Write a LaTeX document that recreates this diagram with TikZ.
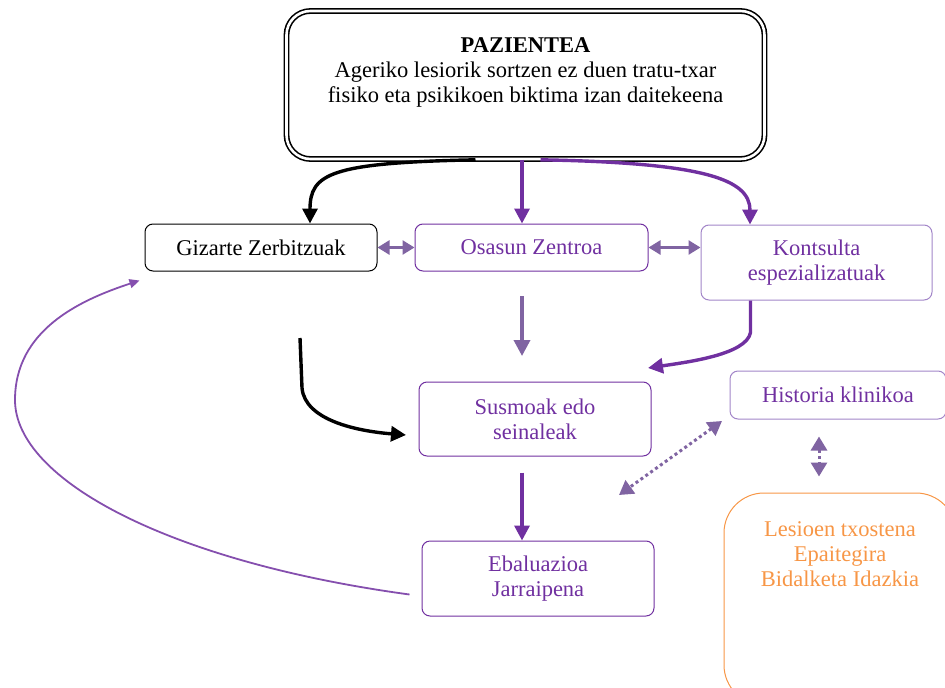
\documentclass[tikz,border=0pt]{standalone}
\usepackage{fontspec}
\setmainfont{Liberation Serif}
\usepackage{tikz}
\usetikzlibrary{arrows.meta,positioning}
\definecolor{darkPurple}{HTML}{7030A0}
\definecolor{softPurple}{HTML}{8064A2}
\definecolor{paleBorder}{HTML}{A285C8}
\definecolor{reportOrange}{HTML}{F79646}

\begin{document}
\begin{tikzpicture}[
  x=1pt,
  y=-1pt,
  every node/.style={
    font=\fontsize{22.5}{25}\selectfont,
    align=center,
  },
  every box/.style={
    draw,
    line width=1pt,
    rounded corners=8pt,
    inner sep=0pt,
  },
  service box/.style={
    every box/.try,
    draw=black,
    text=black,
  },
  purple box/.style={
    every box/.try,
    draw=darkPurple,
    text=darkPurple,
  },
  pale box/.style={
    every box/.try,
    draw=paleBorder,
    text=darkPurple,
  },
  top box/.style={
    draw=black,
    line width=1.6pt,
    double=white,
    double distance=2.6pt,
    rounded corners=24pt,
    minimum width=478pt,
    minimum height=148pt,
  },
  report box/.style={
    draw=reportOrange,
    line width=1pt,
    rounded corners=40pt,
    minimum width=232pt,
    minimum height=212pt,
  },
  black flow/.style={
    draw=black,
    line width=3.4pt,
    -{Triangle[length=15pt,width=15pt]},
  },
  purple flow/.style={
    draw=darkPurple,
    line width=3.4pt,
    -{Triangle[length=15pt,width=15pt]},
  },
  soft flow/.style={
    draw=softPurple,
    line width=3.6pt,
    -{Triangle[length=16pt,width=16pt]},
  },
  twin arrow/.style={
    draw=softPurple,
    line width=2.6pt,
    {Triangle[length=12pt,width=14pt]}-{Triangle[length=12pt,width=14pt]},
  },
  dotted twin/.style={
    draw=softPurple,
    line width=3pt,
    dash pattern=on 3pt off 3pt,
    {Triangle[length=14pt,width=16pt]}-{Triangle[length=14pt,width=16pt]},
  },
  return arc/.style={
    draw=darkPurple!85,
    line width=1.8pt,
    -{Triangle[length=10pt,width=9pt]},
  },
]
\useasboundingbox (0,0) rectangle (945,688);

\node[top box] (pazientea) at (525.5,85) {};
\node (pazientetext) at (525.5,72)
  {\textbf{PAZIENTEA}\\Ageriko lesiorik sortzen ez duen tratu-txar\\fisiko eta psikikoen biktima izan daitekeena};

\node[service box,minimum width=232pt,minimum height=47pt] (gizarte) at (261,247.5) {Gizarte Zerbitzuak};
\node[purple box,minimum width=233pt,minimum height=47pt] (osasun) at (531.5,247.5) {Osasun Zentroa};
\node[pale box,minimum width=231pt,minimum height=75pt] (kontsulta) at (816.5,262.5) {Kontsulta\\espezializatuak};
\node[purple box,minimum width=232pt,minimum height=74pt] (susmoak) at (535,419) {Susmoak edo\\seinaleak};
\node[pale box,minimum width=216pt,minimum height=48pt] (historia) at (838,395) {Historia klinikoa};
\node[purple box,minimum width=232pt,minimum height=75pt] (ebaluazioa) at (538,578.5) {Ebaluazioa\\Jarraipena};
\node[report box] (txostena) at (840,599) {};
\node[text=reportOrange] (txostenatext) at (840,554) {Lesioen txostena\\Epaitegira\\Bidalketa Idazkia};

\coordinate (osasunfoot) at (522,296);
\coordinate (osasunend) at (522,356);
\coordinate (gizartefoot) at (300,338);
\coordinate (susmoakin) at (406,435);
\coordinate (susmoakne) at (648,368);
\coordinate (historiatip) at (722,421);
\coordinate (susmoakse) at (619,495);

\draw[black flow] ([xshift=-50pt]pazientea.south) .. controls +(-145,3) and +(0,-50) .. ([xshift=49pt]gizarte.north);
\draw[purple flow] ([xshift=-3.5pt]pazientea.south) -- ([xshift=-9.5pt]osasun.north);
\draw[purple flow] ([xshift=15pt]pazientea.south) .. controls +(165,3) and +(0,-45) .. ([xshift=-66.5pt]kontsulta.north);

\foreach \a/\b in {gizarte/osasun,osasun/kontsulta}
  \draw[twin arrow] (\a.east) -- (\a.east -| \b.west);

\draw[soft flow] (osasunfoot) -- (osasunend);
\draw[purple flow] ([xshift=-66pt]kontsulta.south) -- ++(0,32) .. controls +(-4,22) and +(40,-6) .. (susmoakne);
\draw[black flow] (gizartefoot) -- ++(2,50) .. controls +(3,32) and +(-50,-4) .. (susmoakin);
\draw[purple flow] ([xshift=-13pt,yshift=-16pt]susmoak.south) -- ([xshift=-16pt]ebaluazioa.north);

\draw[dotted twin] (historiatip) -- (susmoakse);
\draw[dotted twin] ([xshift=-19pt,yshift=-17pt]historia.south) -- ([xshift=-21pt,yshift=16pt]txostena.north);

\draw[return arc] ([xshift=-12pt,yshift=-16pt]ebaluazioa.west) .. controls (170,562) and (15,480) .. (15,400)
  .. controls (15,330) and (80,300) .. ([xshift=-5pt,yshift=-9pt]gizarte.south west);
\end{tikzpicture}
\end{document}
